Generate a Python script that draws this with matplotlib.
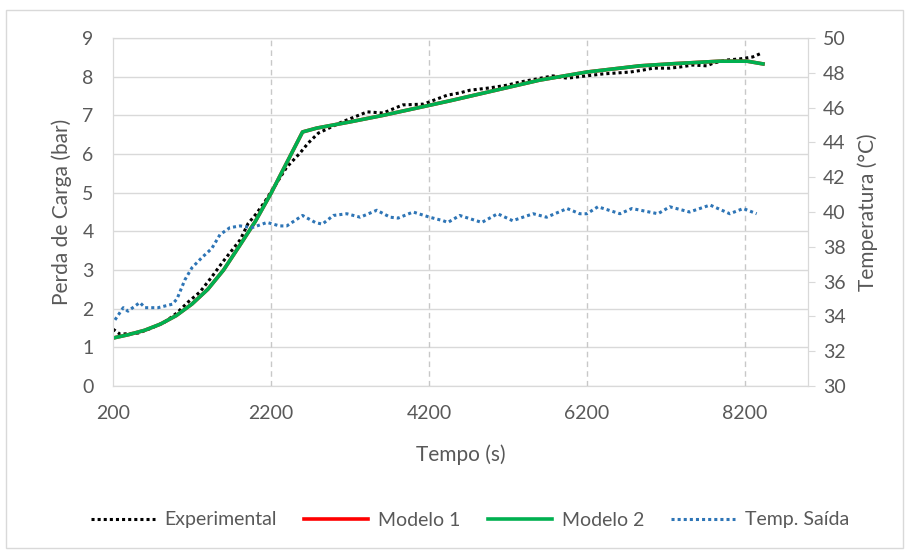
import numpy as np
import matplotlib.pyplot as plt
from matplotlib.patches import Rectangle

# tempo (s) e perda de carga (bar)
t_exp = [200, 290, 520, 690, 860, 1010, 1150, 1300, 1450, 1590, 1810, 1910, 2020, 2120,
         2400, 2570, 2670, 2800, 3100, 3420, 3620, 3870, 4130, 4430, 4590, 4720, 4970,
         5190, 5350, 5770, 5950, 6070, 6400, 6750, 6910, 7040, 7250, 7380, 7540, 7720,
         7800, 7970, 8140, 8300, 8390]
p_exp = [1.47, 1.34, 1.37, 1.50, 1.66, 1.89, 2.17, 2.43, 2.82, 3.21, 3.78, 4.20, 4.47, 4.76,
         5.66, 6.03, 6.28, 6.54, 6.83, 7.09, 7.06, 7.27, 7.29, 7.52, 7.58, 7.65, 7.71,
         7.78, 7.86, 8.02, 7.96, 7.99, 8.07, 8.12, 8.17, 8.22, 8.22, 8.25, 8.30, 8.28,
         8.35, 8.43, 8.46, 8.51, 8.59]

t_mod = [200, 400, 600, 800, 1000, 1200, 1400, 1600, 1800, 2000, 2200, 2600, 2780, 3200,
         3620, 4050, 4475, 5600, 6200, 6870, 7250, 7880, 8230, 8430]
p_mod1 = [1.24, 1.33, 1.44, 1.60, 1.82, 2.12, 2.50, 3.00, 3.62, 4.25, 4.98, 6.57, 6.67,
          6.83, 7.00, 7.19, 7.38, 7.91, 8.12, 8.28, 8.33, 8.40, 8.40, 8.33]
p_mod2 = [1.24, 1.33, 1.44, 1.60, 1.82, 2.12, 2.50, 3.00, 3.62, 4.25, 4.98, 6.57, 6.67,
          6.83, 7.00, 7.19, 7.38, 7.91, 8.12, 8.28, 8.33, 8.40, 8.40, 8.33]

# temperatura de saida (C)
t_temp = [225, 330, 390, 540, 605, 770, 950, 1010, 1110, 1200, 1330, 1450, 1555, 1680,
          1810, 1960, 2150, 2310, 2400, 2600, 2760, 2850, 2990, 3160, 3330, 3540, 3710,
          3810, 4000, 4210, 4380, 4440, 4590, 4870, 5070, 5260, 5520, 5690, 5950, 6110,
          6200, 6340, 6620, 6770, 7100, 7250, 7500, 7760, 8010, 8180, 8350]
temp = [33.8, 34.5, 34.3, 34.8, 34.5, 34.5, 34.7, 35.0, 36.1, 36.8, 37.4, 37.9, 38.7, 39.1,
        39.2, 39.1, 39.4, 39.2, 39.2, 39.8, 39.4, 39.3, 39.8, 39.9, 39.7, 40.1, 39.7,
        39.65, 40.0, 39.7, 39.5, 39.4, 39.8, 39.4, 39.9, 39.5, 39.9, 39.7, 40.2, 39.9,
        39.9, 40.3, 39.9, 40.2, 39.9, 40.3, 40.0, 40.4, 39.9, 40.2, 39.9]

plt.rcParams['font.family'] = ['Lato', 'DejaVu Sans']
grey = '#595959'
gridc = '#d9d9d9'

fig = plt.figure(figsize=(9.05, 5.5), dpi=100)
fig.patches.append(Rectangle((6/905, 2/550), 897/905, 538/550, transform=fig.transFigure,
                             fill=False, edgecolor=gridc, lw=1))
ax = fig.add_axes([113/905, 1 - 386/550, 695/905, 348/550])
ax2 = ax.twinx()

ax.plot(t_exp, p_exp, color='black', lw=2.2, ls=(0, (1, 1)), label='Experimental', zorder=3)
ax.plot(t_mod, p_mod1, color='#ff0000', lw=2.6, label='Modelo 1', zorder=4)
ax.plot(t_mod, p_mod2, color='#00b050', lw=2.6, label='Modelo 2', zorder=5)
ax2.plot(t_temp, temp, color='#2e75b6', lw=2.2, ls=(0, (1, 1)), label='Temp. Saída')

ax.set_xlim(200, 9000)
ax.set_ylim(0, 9)
ax2.set_ylim(30, 50)
ax.set_xticks([200, 2200, 4200, 6200, 8200])
ax.set_yticks(range(0, 10))
ax2.set_yticks(range(30, 51, 2))

ax.grid(axis='y', color=gridc, lw=1)
for x in [2200, 4200, 6200, 8200]:
    ax.axvline(x, color='#c8c8c8', lw=1, ls=(0, (4, 3)), zorder=1)
ax.set_axisbelow(True)

for a in (ax, ax2):
    for s in a.spines.values():
        s.set_color(gridc)
    a.tick_params(colors=grey, labelsize=14)
ax.tick_params(length=0, pad=14)
ax.tick_params(axis='x', pad=14)
ax2.tick_params(length=5, color=gridc, pad=6)

ax.set_xlabel('Tempo (s)', fontsize=15, color=grey)
ax.set_ylabel('Perda de Carga (bar)', fontsize=15, color=grey)
ax2.set_ylabel('Temperatura (°C)', fontsize=15, color=grey, labelpad=8)
ax.yaxis.set_label_coords(-0.059, 0.5)
ax.xaxis.set_label_coords(0.5, -0.168)

h1, l1 = ax.get_legend_handles_labels()
h2, l2 = ax2.get_legend_handles_labels()
fig.legend(h1 + h2, l1 + l2, loc='center', bbox_to_anchor=(470/905, 1 - 520/550), ncol=4,
           frameon=False, fontsize=14, labelcolor=grey, handlelength=3.3,
           handletextpad=0.5, columnspacing=1.4)

fig.savefig('out.png', dpi=100)
